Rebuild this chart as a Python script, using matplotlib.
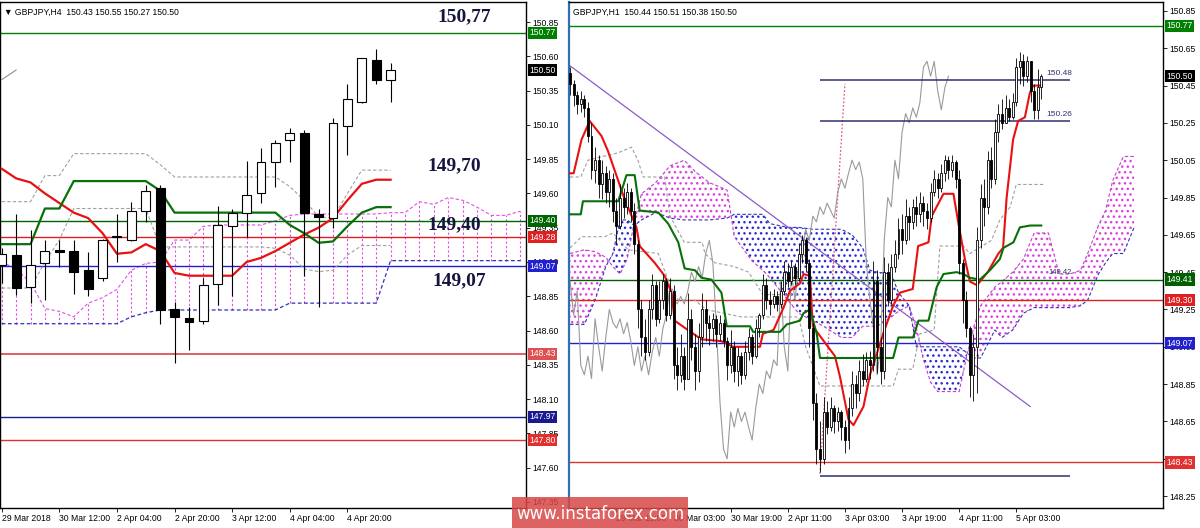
import matplotlib.pyplot as plt
import numpy as np
from matplotlib.patches import Rectangle

plt.rcParams['font.family'] = ['Liberation Sans', 'DejaVu Sans']
plt.rcParams['hatch.linewidth'] = 1.0

# ---------------- H4 (left panel) ----------------
h4_open = [149.08, 149.15, 148.92, 149.09, 149.19, 149.18, 149.04, 148.98, 149.28, 149.26,
           149.47, 149.64, 148.76, 148.69, 148.67, 148.94, 149.36, 149.46, 149.60, 149.83,
           149.99, 150.04, 149.45, 149.42, 150.09, 150.27, 150.57, 150.43]
h4_high = [149.20, 149.45, 149.33, 149.26, 149.26, 149.26, 149.17, 149.27, 149.45, 149.54,
           149.66, 149.66, 148.81, 148.77, 148.98, 149.51, 149.49, 149.84, 149.93, 149.99,
           150.08, 150.06, 149.49, 150.15, 150.40, 150.59, 150.65, 150.55]
h4_low = [148.95, 148.86, 148.80, 148.82, 149.06, 148.87, 148.85, 148.96, 149.10, 149.25,
          149.39, 148.65, 148.36, 148.46, 148.65, 148.79, 148.85, 149.28, 149.53, 149.65,
          149.83, 149.00, 148.77, 149.35, 149.88, 150.26, 150.40, 150.27]
h4_close = [149.16, 148.91, 149.08, 149.18, 149.17, 149.03, 148.90, 149.26, 149.29, 149.47,
            149.62, 148.75, 148.70, 148.66, 148.93, 149.37, 149.46, 149.59, 149.83, 149.97,
            150.04, 149.46, 149.43, 150.11, 150.29, 150.59, 150.43, 150.50]
h4_tenkan = [149.78, 149.71, 149.68, 149.60, 149.53, 149.46, 149.42, 149.31, 149.16, 149.17,
             149.23, 149.18, 149.02, 149.00, 149.00, 149.00, 149.00, 149.10, 149.13, 149.18,
             149.24, 149.30, 149.35, 149.42, 149.55, 149.67, 149.70, 149.70]
h4_kijun = [149.23, 149.23, 149.23, 149.49, 149.49, 149.69, 149.69, 149.69, 149.69, 149.69,
            149.69, 149.62, 149.46, 149.46, 149.46, 149.46, 149.46, 149.46, 149.46, 149.46,
            149.37, 149.31, 149.24, 149.25, 149.36, 149.46, 149.50, 149.50]
h4_cloud_top = [149.10, 149.05, 148.95, 148.76, 148.74, 148.70, 148.80, 148.84, 148.90, 149.04,
                149.09, 149.10, 149.26, 149.26, 149.36, 149.37, 149.37, 149.37, 149.37, 149.40,
                149.44, 149.45, 149.45, 149.45, 149.45, 149.45, 149.45, 149.46, 149.46, 149.54,
                149.52, 149.57, 149.55, 149.50, 149.44, 149.44, 149.47]
h4_cloud_bot = [148.65, 148.65, 148.65, 148.65, 148.65, 148.65, 148.65, 148.65, 148.65, 148.70,
                148.73, 148.75, 148.75, 148.75, 148.75, 148.75, 148.75, 148.75, 148.75, 148.75,
                148.80, 148.80, 148.80, 148.80, 148.80, 148.80, 148.80, 149.11, 149.11, 149.11,
                149.11, 149.11, 149.11, 149.11, 149.11, 149.11, 149.11]
h4_dash_up = [149.54, 149.54, 149.54, 149.73, 149.73, 149.89, 149.89, 149.89, 149.89, 149.89,
              149.89, 149.81, 149.72, 149.72, 149.72, 149.72, 149.72, 149.72, 149.72, 149.72,
              149.65, 149.55, 149.43, 149.42, 149.60, 149.77, 149.77, 149.77]
h4_dash_lo = [148.91, 148.91, 148.91, 149.10, 149.26, 149.49, 149.49, 149.49, 149.49, 149.49,
              149.49, 149.21, 149.21, 149.21, 149.21, 149.21, 149.21, 149.21, 149.21, 149.20,
              149.15, 149.05, 149.03, 149.04, 149.15, 149.22, 149.22, 149.22]
h4_dates = ["29 Mar 2018", "30 Mar 12:00", "2 Apr 04:00", "2 Apr 20:00",
            "3 Apr 12:00", "4 Apr 04:00", "4 Apr 20:00"]
h4_date_pos = [0, 4, 8, 12, 16, 20, 24]
h4_ticks = ["150.85", "150.60", "150.35", "150.10", "149.85", "149.60", "149.35", "149.10",
            "148.85", "148.60", "148.35", "148.10", "147.85", "147.60", "147.35"]
h4_levels = [(150.77, '#008000'), (149.40, '#006400'), (149.28, '#e02020'),
             (149.07, '#2020d0'), (148.43, '#e05050'), (147.97, '#1a1a90'), (147.80, '#e03030')]
h4_big = [("150,77", 32.1, 150.89), ("149,70", 31.4, 149.80),
          ("149,40", 31.4, 149.37), ("149,07", 31.8, 148.96)]

# ---------------- H1 (right panel) ----------------
h1_first_open = 150.52
h1_close = [150.46, 150.40, 150.35, 150.38, 150.33, 150.18, 150.00, 150.05, 149.92, 149.98,
            149.88, 149.95, 149.78, 149.70, 149.85, 149.80, 149.88, 149.78, 149.60, 149.25,
            149.10, 149.02, 149.25, 149.38, 149.20, 149.30, 149.40, 149.22, 149.35, 148.95,
            148.90, 149.00, 148.88, 149.20, 149.05, 148.92, 149.10, 149.25, 149.18, 149.15,
            149.20, 149.12, 149.18, 149.08, 148.95, 149.05, 148.92, 149.00, 148.90, 149.02,
            149.10, 149.00, 149.15, 149.22, 149.38, 149.30, 149.28, 149.32, 149.28, 149.35,
            149.45, 149.40, 149.48, 149.42, 149.55, 149.62, 149.50, 149.15, 148.75, 148.50,
            148.45, 148.70, 148.62, 148.72, 148.65, 148.70, 148.62, 148.55, 148.72, 148.85,
            148.80, 148.92, 148.88, 148.98, 148.95, 149.40, 149.05, 148.92, 149.45, 149.30,
            149.48, 149.55, 149.68, 149.62, 149.75, 149.72, 149.80, 149.76, 149.82, 149.78,
            149.74, 149.88, 149.95, 149.90, 149.98, 150.05, 150.00, 150.04, 149.95, 149.50,
            149.30, 149.15, 148.90, 149.05, 149.62, 149.85, 149.80, 150.05, 149.95, 150.20,
            150.30, 150.25, 150.33, 150.28, 150.36, 150.55, 150.58, 150.50, 150.58, 150.42,
            150.32, 150.44, 150.50]
h1_high = [150.55, 150.48, 150.42, 150.42, 150.40, 150.36, 150.25, 150.12, 150.08, 150.05,
           150.02, 150.00, 149.98, 149.85, 149.92, 149.90, 149.93, 149.90, 149.82, 149.62,
           149.30, 149.20, 149.30, 149.44, 149.40, 149.40, 149.44, 149.42, 149.42, 149.38,
           149.05, 149.12, 149.05, 149.34, 149.25, 149.12, 149.18, 149.34, 149.30, 149.22,
           149.23, 149.22, 149.22, 149.20, 149.10, 149.14, 149.08, 149.05, 149.02, 149.08,
           149.15, 149.12, 149.20, 149.23, 149.44, 149.42, 149.35, 149.36, 149.35, 149.40,
           149.51, 149.50, 149.51, 149.50, 149.60, 149.65, 149.64, 149.52, 149.18, 148.80,
           148.65, 148.78, 148.76, 148.78, 148.74, 148.73, 148.71, 148.66, 148.78, 148.92,
           148.90, 148.98, 149.01, 149.02, 149.03, 149.51, 149.46, 149.10, 149.53, 149.50,
           149.55, 149.62, 149.74, 149.76, 149.84, 149.80, 149.84, 149.86, 149.88, 149.86,
           149.82, 149.93, 150.00, 149.98, 150.03, 150.08, 150.07, 150.08, 150.05, 150.00,
           149.52, 149.35, 149.16, 149.12, 149.69, 149.92, 149.95, 150.10, 150.12, 150.27,
           150.35, 150.38, 150.40, 150.38, 150.41, 150.60, 150.63, 150.62, 150.61, 150.58,
           150.46, 150.54, 150.51]
h1_low = [150.40, 150.34, 150.30, 150.31, 150.28, 150.15, 149.95, 149.93, 149.85, 149.84,
          149.82, 149.80, 149.72, 149.60, 149.68, 149.74, 149.76, 149.72, 149.55, 149.15,
          149.00, 148.98, 149.00, 149.20, 149.16, 149.18, 149.25, 149.19, 149.20, 148.88,
          148.82, 148.86, 148.82, 148.90, 148.98, 148.82, 148.86, 149.05, 149.08, 149.06,
          149.08, 149.05, 149.08, 149.05, 148.87, 148.91, 148.86, 148.84, 148.85, 148.88,
          148.98, 148.96, 148.99, 149.10, 149.20, 149.25, 149.22, 149.26, 149.24, 149.26,
          149.33, 149.37, 149.38, 149.38, 149.40, 149.50, 149.45, 149.05, 148.66, 148.42,
          148.38, 148.42, 148.58, 148.60, 148.59, 148.60, 148.55, 148.48, 148.50, 148.68,
          148.72, 148.76, 148.84, 148.86, 148.88, 148.92, 148.91, 148.85, 148.88, 149.27,
          149.28, 149.45, 149.52, 149.55, 149.60, 149.62, 149.68, 149.70, 149.72, 149.70,
          149.68, 149.72, 149.86, 149.85, 149.88, 149.94, 149.95, 149.96, 149.90, 149.44,
          149.18, 149.10, 148.78, 148.76, 148.80, 149.58, 149.70, 149.76, 149.90, 149.92,
          150.15, 150.22, 150.25, 150.26, 150.27, 150.34, 150.46, 150.45, 150.47, 150.36,
          150.27, 150.27, 150.38]
h1_tenkan = [(0, 149.98), (1, 149.98), (3.2, 150.16), (5.5, 150.26), (8.8, 150.18), (10.6, 150.10),
             (13.5, 149.94), (15.3, 149.84), (18.6, 149.69), (19.5, 149.59), (23.7, 149.50),
             (26.5, 149.43), (28.4, 149.34), (29.3, 149.19), (33, 149.14), (36.8, 149.09),
             (42.4, 149.08), (45.7, 149.05), (53.2, 149.05), (54, 149.12), (57, 149.14),
             (59.8, 149.26), (61.6, 149.35), (64.4, 149.39), (65.4, 149.44), (67.2, 149.43),
             (68, 149.16), (74.2, 149.00), (75.6, 148.89), (78, 148.66), (79.4, 148.63),
             (82.2, 148.73), (84, 148.90), (86.9, 149.07), (87.7, 149.12), (90.5, 149.27),
             (92.4, 149.34), (96, 149.36), (97.5, 149.59), (100.4, 149.61), (101.3, 149.75),
             (104.6, 149.87), (107.4, 149.87), (108.8, 149.71), (110.6, 149.52), (112, 149.40),
             (114, 149.38), (117, 149.45), (120, 149.55), (121.3, 149.58), (122.3, 149.85),
             (124.1, 150.16), (125.5, 150.26), (127.4, 150.28), (128.8, 150.41), (129.7, 150.45),
             (132, 150.45)]
h1_kijun = [(0, 149.76), (3.0, 149.76), (3.6, 149.83), (13.5, 149.83), (15.8, 149.97), (18.1, 149.97),
            (19.5, 149.78), (24.7, 149.77), (27.5, 149.71), (30.3, 149.61), (32.1, 149.47),
            (35, 149.46), (36.8, 149.42), (39.6, 149.41), (42.4, 149.34), (43.9, 149.16),
            (50.4, 149.16), (51.3, 149.13), (58.8, 149.13), (60.7, 149.17), (64.4, 149.19),
            (65.4, 149.23), (67.2, 149.25), (69.1, 149.12), (70, 148.99), (90.5, 148.99),
            (92, 149.10), (96.1, 149.10), (97.6, 149.19), (100.4, 149.19), (102.7, 149.37),
            (104.6, 149.44), (108.3, 149.45), (110.2, 149.44), (112, 149.42), (114.8, 149.41),
            (117.6, 149.46), (120.4, 149.52), (121.4, 149.58), (124.2, 149.61), (126, 149.69),
            (128.9, 149.70), (132, 149.70)]
h1_cloud_x = [0, 4, 7, 10, 12, 14, 16, 18, 20, 24, 28, 32, 35, 39, 44, 46, 51, 54, 56, 61, 64,
              68, 71, 76, 79, 82, 84, 86, 90, 92, 95, 97, 99, 101, 103, 109, 111, 113, 115, 119,
              121, 124, 127, 130, 134, 137, 140, 143, 145, 148, 150, 152, 155, 158]
h1_span_a = [149.55, 149.57, 149.56, 149.53, 149.48, 149.44, 149.52, 149.72, 149.87, 149.93,
             150.02, 150.05, 149.99, 149.93, 149.89, 149.64, 149.51, 149.46, 149.42, 149.30,
             149.23, 149.19, 149.16, 149.10, 149.10, 149.16, 149.16, 149.16, 149.21, 149.24,
             149.27, 149.15, 148.98, 148.86, 148.81, 148.81, 148.99, 149.15, 149.27, 149.37,
             149.40, 149.45, 149.52, 149.66, 149.66, 149.44, 149.44, 149.46, 149.55, 149.70,
             149.78, 149.94, 150.07, 150.07]
h1_span_b = [149.17, 149.17, 149.30, 149.48, 149.55, 149.73, 149.73, 149.70, 149.73, 149.77,
             149.74, 149.73, 149.73, 149.73, 149.74, 149.76, 149.76, 149.76, 149.71, 149.69,
             149.69, 149.68, 149.68, 149.68, 149.65, 149.58, 149.46, 149.45, 149.44, 149.34,
             149.27, 149.05, 149.05, 149.05, 149.05, 149.05, 149.02, 148.99, 148.99, 149.14,
             149.10, 149.14, 149.23, 149.26, 149.26, 149.26, 149.26, 149.27, 149.30, 149.44,
             149.50, 149.55, 149.55, 149.69]
h1_dash_1 = [(0, 149.96), (3, 149.96), (5, 150.05), (13.5, 150.09), (17.2, 150.12), (19, 150.05),
             (20.5, 149.96), (26.5, 149.96), (28, 149.75), (32, 149.61), (37, 149.61),
             (37.8, 149.55), (40.6, 149.50), (46, 149.48), (50, 149.45), (54, 149.33), (64, 149.33)]
h1_dash_2 = [(0, 149.58), (3.2, 149.64), (9.7, 149.64), (12, 149.66), (16.3, 149.57),
             (24.7, 149.55), (28, 149.38), (30.3, 149.30), (35, 149.30), (38, 149.25),
             (48, 149.21), (64, 149.21), (66, 149.05), (70, 148.84), (90.5, 148.84), (92, 148.93),
             (96, 148.93), (98, 149.12), (102, 149.14), (103.6, 149.59), (110.2, 149.59),
             (112, 149.55), (118, 149.62), (120.4, 149.73), (123.3, 149.80), (125, 149.92),
             (132.6, 149.92)]
h1_proj = [(70, 148.37), (77, 150.46)]
h1_trend = [(-0.3, 150.56), (128.9, 148.73)]
h1_dates = ["29 Mar 11:00", "30 Mar 03:00", "30 Mar 19:00", "2 Apr 11:00",
            "3 Apr 03:00", "3 Apr 19:00", "4 Apr 11:00", "5 Apr 03:00"]
h1_date_pos = [13, 29, 45, 61, 77, 93, 109, 125]
h1_ticks = ["150.85", "150.65", "150.45", "150.25", "150.05", "149.85", "149.65", "149.45",
            "149.25", "149.05", "148.85", "148.65", "148.45", "148.25"]
h1_levels = [(150.77, '#008000'), (149.41, '#006000'), (149.30, '#e02020'),
             (149.07, '#2020d0'), (148.43, '#e03030')]
h1_short = [(150.48, "150.48"), (150.26, "150.26")]


def draw_candles(ax, o, h, l, c, width, lw, min_h):
    x = np.arange(len(c))
    o = np.array(o); h = np.array(h); l = np.array(l); c = np.array(c)
    ax.vlines(x, l, h, color='black', lw=lw, zorder=4)
    bottoms = np.minimum(o, c)
    heights = np.maximum(np.abs(c - o), min_h)
    colors = ['white' if cc >= oo else 'black' for oo, cc in zip(o, c)]
    ax.bar(x, heights, width, bottom=bottoms, color=colors, edgecolor='black',
           lw=lw, zorder=5)


def price_box(ax, price, color, fs=6.2):
    ax.text(1.006, price, "%.2f" % price, transform=ax.get_yaxis_transform(),
            ha='left', va='center', color='white', fontsize=fs, zorder=10, clip_on=False,
            bbox=dict(facecolor=color, edgecolor='none', pad=1.2))


def style_axis(ax, ticks, dates, date_pos):
    ax.yaxis.tick_right()
    ax.set_yticks([float(t) for t in ticks])
    ax.set_yticklabels(ticks)
    ax.set_xticks(date_pos)
    ax.set_xticklabels(dates, ha='left')
    ax.tick_params(axis='both', labelsize=6.2, length=3, width=0.6, pad=1.5, colors='black')
    for s in ax.spines.values():
        s.set_linewidth(1.0)
        s.set_color('black')


fig = plt.figure(figsize=(12, 5.28), dpi=100)
fig.patch.set_facecolor('white')

# ---------- left panel ----------
ax1 = fig.add_axes([0.0, 20 / 528, 526 / 1200, 506 / 528])
ax1.set_xlim(-0.12, 36.4)
ax1.set_ylim(147.306, 150.996)

ix = np.arange(len(h4_cloud_top))
ax1.vlines(ix, h4_cloud_bot, h4_cloud_top, colors='#e050e0', linestyles=(0, (2, 2)), lw=0.8, zorder=1)
ax1.plot(ix, h4_cloud_top, color='#e050e0', ls=(0, (3, 2)), lw=0.8, zorder=1)
ax1.plot(ix, h4_cloud_bot, color='#3030c0', ls=(0, (3, 2)), lw=0.9, zorder=1)

for p, col in h4_levels:
    ax1.axhline(p, color=col, lw=1.3 if p == 148.43 else 1.0, zorder=2)

ik = np.arange(len(h4_tenkan))
ax1.plot(ik, h4_dash_up, color='#a0a0a0', ls=(0, (3, 2)), lw=0.8, zorder=2)
ax1.plot(ik, h4_dash_lo, color='#a0a0a0', ls=(0, (3, 2)), lw=0.8, zorder=2)
ax1.plot(ik, h4_tenkan, color='#e81010', lw=1.6, zorder=3)
ax1.plot(ik, h4_kijun, color='#087008', lw=1.6, zorder=3)
ax1.plot([0, 1], h4_close[26:28], color='#909090', lw=0.8, zorder=3)

draw_candles(ax1, h4_open, h4_high, h4_low, h4_close, 0.62, 0.8, 0.012)

for txt, xi, yp in h4_big:
    ax1.text(xi, yp, txt, ha='center', va='center', fontsize=14, fontweight='bold',
             family='Liberation Serif', color='#151540', zorder=8)

ax1.text(0.008, 0.988, "\u25bc GBPJPY,H4  150.43 150.55 150.27 150.50", transform=ax1.transAxes,
         ha='left', va='top', fontsize=6.2, color='black', zorder=9)
style_axis(ax1, h4_ticks, h4_dates, h4_date_pos)
for p, col in h4_levels:
    price_box(ax1, p, col)
price_box(ax1, 150.50, 'black')

# ---------- right panel ----------
ax2 = fig.add_axes([569 / 1200, 20 / 528, (1163 - 569) / 1200, 506 / 528])
ax2.set_xlim(-0.3, 166.1)
ax2.set_ylim(148.186, 150.898)

cx = np.array(h1_cloud_x, dtype=float)
sa = np.array(h1_span_a)
sb = np.array(h1_span_b)
ax2.fill_between(cx, sa, sb, where=sa >= sb, interpolate=True, facecolor='none',
                 edgecolor='#e040e0', hatch='...', lw=0, zorder=1)
ax2.fill_between(cx, sa, sb, where=sb > sa, interpolate=True, facecolor='none',
                 edgecolor='#2a2ad0', hatch='...', lw=0, zorder=1)
ax2.plot(cx, sa, color='#c040d0', ls=(0, (3, 2)), lw=0.8, zorder=1)
ax2.plot(cx, sb, color='#3030c0', ls=(0, (3, 2)), lw=0.8, zorder=1)

for p, col in h1_levels:
    ax2.axhline(p, color=col, lw=1.0, zorder=2)

for pts in (h1_dash_1, h1_dash_2):
    ax2.plot([a for a, b in pts], [b for a, b in pts], color='#a0a0a0', ls=(0, (3, 2)),
             lw=0.8, zorder=2)
ax2.plot([a for a, b in h1_proj], [b for a, b in h1_proj], color='#e06080', ls=(0, (1.5, 1.5)),
         lw=0.9, zorder=2)
ax2.plot([a for a, b in h1_trend], [b for a, b in h1_trend], color='#8a5cc8', lw=0.9, zorder=2)

chikou = h1_close[26:]
ax2.plot(np.arange(len(chikou)), chikou, color='#9a9a9a', lw=0.8, zorder=2)

for p, lab in h1_short:
    ax2.hlines(p, 70, 140, color='#303070', lw=1.1, zorder=3)
    ax2.text(133.3, p + 0.015, lab, fontsize=6, color='#303070', ha='left', va='bottom', zorder=8)
ax2.hlines(148.36, 70, 140, color='#303070', lw=1.1, zorder=3)
ax2.text(134, 149.43, "149.42", fontsize=5.5, color='#303070', ha='left', va='bottom', zorder=8)

ax2.plot([a for a, b in h1_tenkan], [b for a, b in h1_tenkan], color='#e81010', lw=1.5, zorder=3)
ax2.plot([a for a, b in h1_kijun], [b for a, b in h1_kijun], color='#087008', lw=1.5, zorder=3)

h1_open = [h1_first_open] + h1_close[:-1]
draw_candles(ax2, h1_open, h1_high, h1_low, h1_close, 0.55, 0.6, 0.008)

ax2.text(0.006, 0.988, "GBPJPY,H1  150.44 150.51 150.38 150.50", transform=ax2.transAxes,
         ha='left', va='top', fontsize=6.2, color='black', zorder=9)
style_axis(ax2, h1_ticks, h1_dates, h1_date_pos)
ax2.spines['left'].set_color('#3070b0')
ax2.spines['left'].set_linewidth(1.6)
for p, col in h1_levels:
    price_box(ax2, p, col)
price_box(ax2, 150.50, 'black')

# watermark
fig.patches.append(Rectangle((512 / 1200, 0), 176 / 1200, 31 / 528, transform=fig.transFigure,
                             facecolor='#d84848', alpha=0.85, edgecolor='none', zorder=20))
fig.text(600 / 1200, 14 / 528, "www.instaforex.com", color='white', fontsize=12,
         ha='center', va='center', zorder=21, family='DejaVu Sans')

fig.savefig('out.png', dpi=100)
plt.close()
